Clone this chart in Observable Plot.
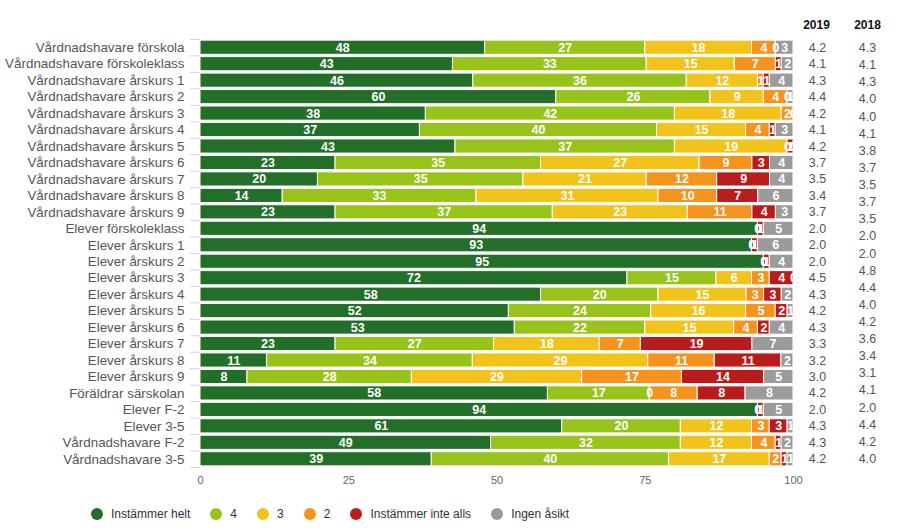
<!DOCTYPE html>
<html>
<head>
<meta charset="utf-8">
<script src="https://cdn.jsdelivr.net/npm/d3@7"></script>
<script src="https://cdn.jsdelivr.net/npm/@observablehq/plot@0.6"></script>
<style>
  body { margin: 0; background: white; font-family: "Liberation Sans", Arial, sans-serif; }
  #wrap { position: relative; width: 898px; }
  #side { position: absolute; left: 837px; top: 0; }
  #legend { display: flex; align-items: center; padding-left: 91px; height: 37px; font-size: 12px; color: #333; }
  .item { display: flex; align-items: center; margin-right: 20px; }
  .dot { width: 12px; height: 12px; border-radius: 50%; margin-right: 8px; }
</style>
</head>
<body>
<div id="wrap"><div id="main"></div><div id="side"></div></div>
<div id="legend"></div>
<script>
const names = [
  "Vårdnadshavare förskola", "Vårdnadshavare förskoleklass", "Vårdnadshavare årskurs 1",
  "Vårdnadshavare årskurs 2", "Vårdnadshavare årskurs 3", "Vårdnadshavare årskurs 4",
  "Vårdnadshavare årskurs 5", "Vårdnadshavare årskurs 6", "Vårdnadshavare årskurs 7",
  "Vårdnadshavare årskurs 8", "Vårdnadshavare årskurs 9", "Elever förskoleklass",
  "Elever årskurs 1", "Elever årskurs 2", "Elever årskurs 3", "Elever årskurs 4",
  "Elever årskurs 5", "Elever årskurs 6", "Elever årskurs 7", "Elever årskurs 8",
  "Elever årskurs 9", "Föräldrar särskolan", "Elever F-2", "Elever 3-5",
  "Vårdnadshavare F-2", "Vårdnadshavare 3-5"
];
const cats = ["Instämmer helt", "4", "3", "2", "Instämmer inte alls", "Ingen åsikt"];
const colors = ["#236e29", "#98c31b", "#f1c31b", "#f4931d", "#b71d1d", "#9b9b9b"];

const helt  = [48,43,46,60,38,37,43,23,20,14,23,94,93,95,72,58,52,53,23,11, 8,58,94,61,49,39];
const fyra  = [27,33,36,26,42,40,37,35,35,33,37, 0, 0, 0,15,20,24,22,27,34,28,17, 0,20,32,40];
const tre   = [18,15,12, 9,18,15,19,27,21,31,23, 0, 0, 0, 6,15,16,15,18,29,29, 0, 0,12,12,17];
const tva   = [ 4, 7, 1, 4, 2, 4, 0, 9,12,10,11, 0, 0, 0, 3, 3, 5, 4, 7,11,17, 8, 0, 3, 4, 2];
const inte  = [ 0, 1, 1, 0, 0, 1, 1, 3, 9, 7, 4, 1, 1, 1, 4, 3, 2, 2,19,11,14, 8, 1, 3, 1, 1];
const ingen = [ 3, 2, 4, 1, 0, 3, 0, 4, 4, 6, 3, 5, 6, 4, 0, 2, 1, 4, 7, 2, 5, 8, 5, 1, 2, 1];

const v2019 = [4.2,4.1,4.3,4.4,4.2,4.1,4.2,3.7,3.5,3.4,3.7,2.0,2.0,2.0,4.5,4.3,4.2,4.3,3.3,3.2,3.0,4.2,2.0,4.3,4.3,4.2];
const v2018 = [4.3,4.1,4.3,4.0,4.0,4.1,3.8,3.7,3.5,3.7,3.5,2.0,2.0,4.8,4.4,4.0,4.2,3.6,3.4,3.1,4.1,2.0,4.4,4.2,4.0];
const xTicks = [0, 25, 50, 75, 100];

const series = [helt, fyra, tre, tva, inte, ingen];
const long = [];
names.forEach((n, i) => cats.forEach((c, j) => long.push({name: n, cat: c, value: series[j][i]})));
const rows = names.map((n, i) => ({name: n, v: v2019[i]}));

const W = 898, H = 495, MT = 39, MB = 28, ML = 200, MR = 105;
const step = (H - MT - MB) / names.length;
const font = "'Liberation Sans', Arial, sans-serif";
const stackOpts = {x: "value", y: "name", z: "cat", order: cats, offset: "normalize"};

const main = Plot.plot({
  width: W, height: H, marginTop: MT, marginBottom: MB, marginLeft: ML, marginRight: MR,
  style: {fontFamily: font, background: "white", overflow: "visible"},
  x: {domain: [0, 1], axis: null},
  y: {domain: names, paddingInner: 0.14, paddingOuter: 0.07, round: false, axis: null},
  color: {domain: cats, range: colors},
  marks: [
    Plot.axisY({text: null, tickSize: 10, dy: -step / 2, stroke: "#ccd6eb", label: null}),
    Plot.axisY([names[names.length - 1]], {text: null, tickSize: 10, dy: step / 2, stroke: "#ccd6eb", label: null}),
    Plot.axisY({tickSize: 0, tickPadding: 16, fontSize: 13.4, fill: "#555", label: null}),
    Plot.axisX({ticks: xTicks.map(t => t / 100), tickFormat: d => String(Math.round(d * 100)), tickSize: 0, tickPadding: 9, fontSize: 11, fill: "#666", label: null}),
    Plot.barX(long, Plot.stackX({...stackOpts, fill: "cat", stroke: "white", strokeWidth: 1})),
    Plot.text(long, Plot.stackX({...stackOpts, text: d => String(d.value), fill: "white", fontWeight: "bold", fontSize: 12.5})),
    Plot.text(rows, {x: () => 1, y: "name", text: d => d.v.toFixed(1), dx: 24, fill: "#555", fontSize: 12.5}),
    Plot.text(["2019"], {x: () => 1, frameAnchor: "top", dx: 23, dy: -19, text: d => d, fontWeight: "bold", fill: "#111", fontSize: 12})
  ]
});
document.getElementById("main").appendChild(main);

const side = Plot.plot({
  width: 60, height: H, marginTop: MT, marginBottom: MB, marginLeft: 0, marginRight: 0,
  style: {fontFamily: font, background: "transparent", overflow: "visible"},
  y: {type: "band", domain: d3.range(v2018.length), padding: 0, round: false, axis: null},
  marks: [
    Plot.text(v2018, {y: (d, i) => i, text: d => d.toFixed(1), frameAnchor: "middle", fill: "#555", fontSize: 12.5}),
    Plot.text(["2018"], {frameAnchor: "top", dy: -19, text: d => d, fontWeight: "bold", fill: "#111", fontSize: 12})
  ]
});
document.getElementById("side").appendChild(side);

const legend = document.getElementById("legend");
cats.forEach((c, i) => {
  const it = document.createElement("div");
  it.className = "item";
  const dot = document.createElement("span");
  dot.className = "dot";
  dot.style.background = colors[i];
  const lab = document.createElement("span");
  lab.textContent = c;
  it.appendChild(dot); it.appendChild(lab);
  legend.appendChild(it);
});
</script>
</body>
</html>
